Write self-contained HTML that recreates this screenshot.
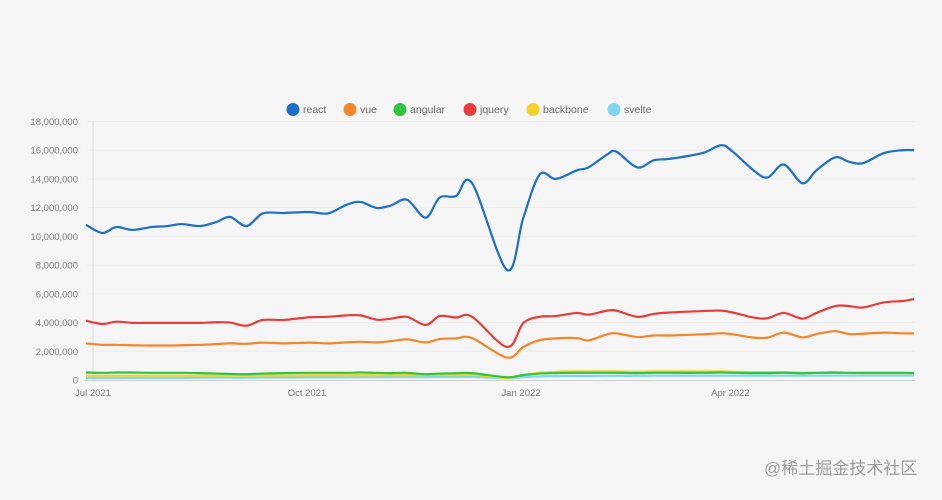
<!DOCTYPE html>
<html><head><meta charset="utf-8"><style>
html,body{margin:0;padding:0;background:#f5f5f5;}
body{width:942px;height:495px;overflow:hidden;position:relative;font-family:"Liberation Sans",sans-serif;}
#wm{position:absolute;left:764px;top:454px;font:17px "Liberation Sans","Noto Sans CJK SC",sans-serif;color:#9a9a9a;text-shadow:0 0 1px #fff;}
</style></head><body>
<svg id="chart" width="942" height="495" xmlns="http://www.w3.org/2000/svg"></svg>
<div id="wm">@稀土掘金技术社区</div>
<script>
// days since 2021-07-01 for each sample
const days = [-3,4,10,17,25,32,38,46,53,59,66,73,82,93,101,109,115,122,128,135,143,149,156,163,178,185,192,199,208,213,221,225,234,241,248,262,270,275,284,290,297,305,311,319,325,331,340,348,353];
const react = [10.8,10.24,10.65,10.45,10.65,10.72,10.86,10.72,11.0,11.35,10.72,11.6,11.63,11.7,11.6,12.2,12.4,11.98,12.15,12.55,11.3,12.7,12.8,13.7,7.66,11.3,14.3,14.0,14.6,14.8,15.7,15.9,14.8,15.3,15.4,15.8,16.35,15.9,14.6,14.1,15.0,13.7,14.6,15.5,15.2,15.1,15.8,16.0,16.0];
const vue = [2.55,2.45,2.45,2.42,2.4,2.4,2.42,2.45,2.5,2.55,2.52,2.6,2.55,2.6,2.55,2.62,2.66,2.62,2.7,2.83,2.62,2.85,2.9,2.92,1.56,2.3,2.77,2.9,2.92,2.76,3.18,3.25,3.0,3.1,3.1,3.18,3.25,3.18,2.95,2.95,3.3,2.97,3.2,3.4,3.2,3.22,3.3,3.25,3.25];
const angular = [0.52,0.5,0.52,0.52,0.5,0.5,0.5,0.48,0.45,0.42,0.4,0.45,0.48,0.5,0.5,0.5,0.52,0.5,0.48,0.5,0.4,0.45,0.47,0.48,0.19,0.35,0.45,0.48,0.5,0.5,0.5,0.5,0.48,0.5,0.5,0.5,0.52,0.5,0.48,0.48,0.5,0.47,0.5,0.52,0.5,0.5,0.5,0.5,0.48];
const jquery = [4.13,3.9,4.06,3.98,3.98,3.98,3.98,3.98,4.02,4.0,3.78,4.18,4.18,4.37,4.4,4.5,4.5,4.2,4.27,4.4,3.83,4.45,4.35,4.4,2.3,3.97,4.4,4.45,4.67,4.55,4.83,4.83,4.4,4.6,4.7,4.8,4.83,4.7,4.35,4.3,4.67,4.27,4.67,5.15,5.15,5.05,5.4,5.5,5.64];
const backbone = [0.3,0.3,0.3,0.3,0.3,0.3,0.3,0.3,0.3,0.3,0.3,0.31,0.31,0.32,0.32,0.33,0.33,0.33,0.34,0.34,0.34,0.35,0.35,0.36,0.15,0.35,0.5,0.58,0.6,0.6,0.6,0.6,0.58,0.6,0.6,0.6,0.6,0.58,0.55,0.55,0.55,0.5,0.5,0.5,0.5,0.48,0.48,0.48,0.48];
const svelte = [0.14,0.14,0.14,0.15,0.15,0.15,0.15,0.16,0.16,0.16,0.16,0.17,0.17,0.18,0.18,0.18,0.19,0.19,0.2,0.2,0.2,0.21,0.21,0.22,0.12,0.2,0.25,0.27,0.28,0.28,0.29,0.29,0.29,0.3,0.3,0.3,0.3,0.3,0.3,0.3,0.3,0.3,0.3,0.31,0.31,0.31,0.31,0.31,0.31];
const yTicks = [0,2,4,6,8,10,12,14,16,18];
const yTickLabels = ["0","2,000,000","4,000,000","6,000,000","8,000,000","10,000,000","12,000,000","14,000,000","16,000,000","18,000,000"];
const xTickDays = [0,92,184,274];
const xTickLabels = ["Jul 2021","Oct 2021","Jan 2022","Apr 2022"];
const seriesNames = ["react","vue","angular","jquery","backbone","svelte"];
const seriesColors = ["#1b6fc8","#f4852a","#2ec43d","#e83c3a","#f3d02a","#7fd6f2"];

const NS="http://www.w3.org/2000/svg", svg=document.getElementById('chart');
const X=d=>93+d*(214/92), Y=v=>380-v*(258.5/18);
function mk(t,a,p){const e=document.createElementNS(NS,t);for(const k in a)e.setAttribute(k,a[k]);(p||svg).appendChild(e);return e;}
const grid=mk('g',{});


yTicks.forEach((t,i)=>{
  if(t>0){const l=mk('line',{x1:87,x2:915,y1:Y(t),y2:Y(t),stroke:'#ececec','stroke-width':1},grid);
  
  }
  const tx=mk('text',{x:78,y:Y(t)+3.5,'text-anchor':'end','font-size':'9.5',fill:'#777'});
  tx.textContent=yTickLabels[i];
  
  
});
const ya=mk('line',{x1:93,x2:93,y1:121,y2:382,stroke:'#dcdcdc'});


const xa=mk('line',{x1:85,x2:915,y1:380.5,y2:380.5,stroke:'#d0d0d0'});


xTickDays.forEach((d,i)=>{
  const tx=mk('text',{x:X(d),y:396,'text-anchor':'middle','font-size':'9.5',fill:'#777'});
  tx.textContent=xTickLabels[i];
  
  
});
function path(vals){
  const p=vals.map((v,i)=>[X(days[i]),Y(v)]);
  let s='M'+p[0][0]+','+p[0][1];
  for(let i=0;i<p.length-1;i++){
    const p0=p[Math.max(0,i-1)],p1=p[i],p2=p[i+1],p3=p[Math.min(p.length-1,i+2)],k=1/6;
    s+=` C${p1[0]+(p2[0]-p0[0])*k},${p1[1]+(p2[1]-p0[1])*k} ${p2[0]-(p3[0]-p1[0])*k},${p2[1]-(p3[1]-p1[1])*k} ${p2[0]},${p2[1]}`;
  }
  return s;
}
const data=[react,vue,angular,jquery,backbone,svelte];
[5,4,2,1,3,0].forEach(i=>{
  const e=mk('path',{d:path(data[i]),fill:'none',stroke:seriesColors[i],'stroke-width':2.2,'stroke-linejoin':'round'});
  
  
});
const lx=[293,350,400,470,533,614];
seriesNames.forEach((n,i)=>{
  const g=mk('g',{});
  
  
  mk('circle',{cx:lx[i],cy:109.5,r:6.5,fill:seriesColors[i]},g);
  const t=mk('text',{x:lx[i]+10,y:113,'font-size':'10.5',fill:'#666'},g);
  t.textContent=n;
});
</script>
</body></html>
